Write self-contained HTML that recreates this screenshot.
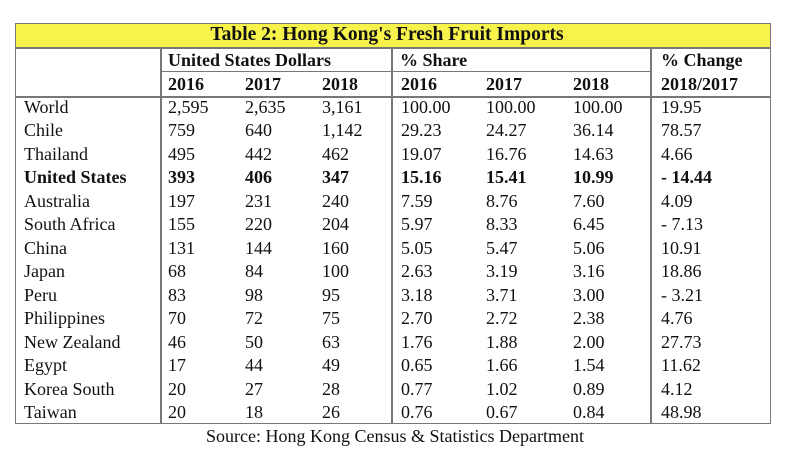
<!DOCTYPE html>
<html><head><meta charset="utf-8">
<style>
body{margin:0;background:#fff;width:800px;height:459px;overflow:hidden;position:relative;font-family:"Liberation Serif",serif;color:#111}
.t{position:absolute;font-size:18px;line-height:20px;white-space:nowrap}
.b{font-weight:bold}
.ln{position:absolute;background:#777}
</style></head><body>
<div id="tbl" style="position:absolute;left:15px;top:23px;width:756px;height:401px;border:1.5px solid #777;box-sizing:border-box"></div>
<div style="position:absolute;left:16px;top:24px;width:754px;height:23px;background:#f8f34a"></div>
<div class="t b" style="left:10px;width:754px;text-align:center;top:25px;font-size:19.5px">Table 2: Hong Kong's Fresh Fruit Imports</div>
<div class="ln" style="left:15px;top:47px;width:756px;height:1.5px"></div>
<div class="ln" style="left:160px;top:71px;width:491px;height:1px"></div>
<div class="ln" style="left:15px;top:96px;width:756px;height:1.5px"></div>
<div class="ln" style="left:160px;top:47px;width:1.5px;height:377px"></div>
<div class="ln" style="left:391px;top:47px;width:1.5px;height:377px"></div>
<div class="ln" style="left:650px;top:47px;width:1.5px;height:377px"></div>
<div class="t b" style="left:168px;top:50px">United States Dollars</div>
<div class="t b" style="left:400px;top:50px">% Share</div>
<div class="t b" style="left:661px;top:50px">% Change</div>
<div class="t b" style="left:661px;top:74px">2018/2017</div>
<div class="t" style="left:0;width:790px;text-align:center;top:426px">Source: Hong Kong Census &amp; Statistics Department</div>
<script>
const years=["2016","2017","2018"];
const countries=["World","Chile","Thailand","United States","Australia","South Africa","China","Japan","Peru","Philippines","New Zealand","Egypt","Korea South","Taiwan"];
const usd2016=["2,595","759","495","393","197","155","131","68","83","70","46","17","20","20"];
const usd2017=["2,635","640","442","406","231","220","144","84","98","72","50","44","27","18"];
const usd2018=["3,161","1,142","462","347","240","204","160","100","95","75","63","49","28","26"];
const share2016=["100.00","29.23","19.07","15.16","7.59","5.97","5.05","2.63","3.18","2.70","1.76","0.65","0.77","0.76"];
const share2017=["100.00","24.27","16.76","15.41","8.76","8.33","5.47","3.19","3.71","2.72","1.88","1.66","1.02","0.67"];
const share2018=["100.00","36.14","14.63","10.99","7.60","6.45","5.06","3.16","3.00","2.38","2.00","1.54","0.89","0.84"];
const change=["19.95","78.57","4.66","- 14.44","4.09","- 7.13","10.91","18.86","- 3.21","4.76","27.73","11.62","4.12","48.98"];
const cols=[countries,usd2016,usd2017,usd2018,share2016,share2017,share2018,change];
const colNames=["country","usd-2016","usd-2017","usd-2018","share-2016","share-2017","share-2018","change"];
const colX=[24,168,245,322,401,486,573,661];
const yearX=[168,245,322,401,486,573];
function add(txt,x,y,bold,name){
  const d=document.createElement('div');
  d.className='t'+(bold?' b':'');
  d.style.left=x+'px';d.style.top=y+'px';d.textContent=txt;
  
  
  document.body.appendChild(d);
}
yearX.forEach((x,i)=>add(years[i%3],x,74,true,'year-header'));
countries.forEach((c,r)=>{
  const y=97+r*23.46;
  const bold=c==="United States";
  cols.forEach((col,ci)=>add(col[r],colX[ci],y,bold,colNames[ci]+'-cell'));
});
</script>
</body></html>
